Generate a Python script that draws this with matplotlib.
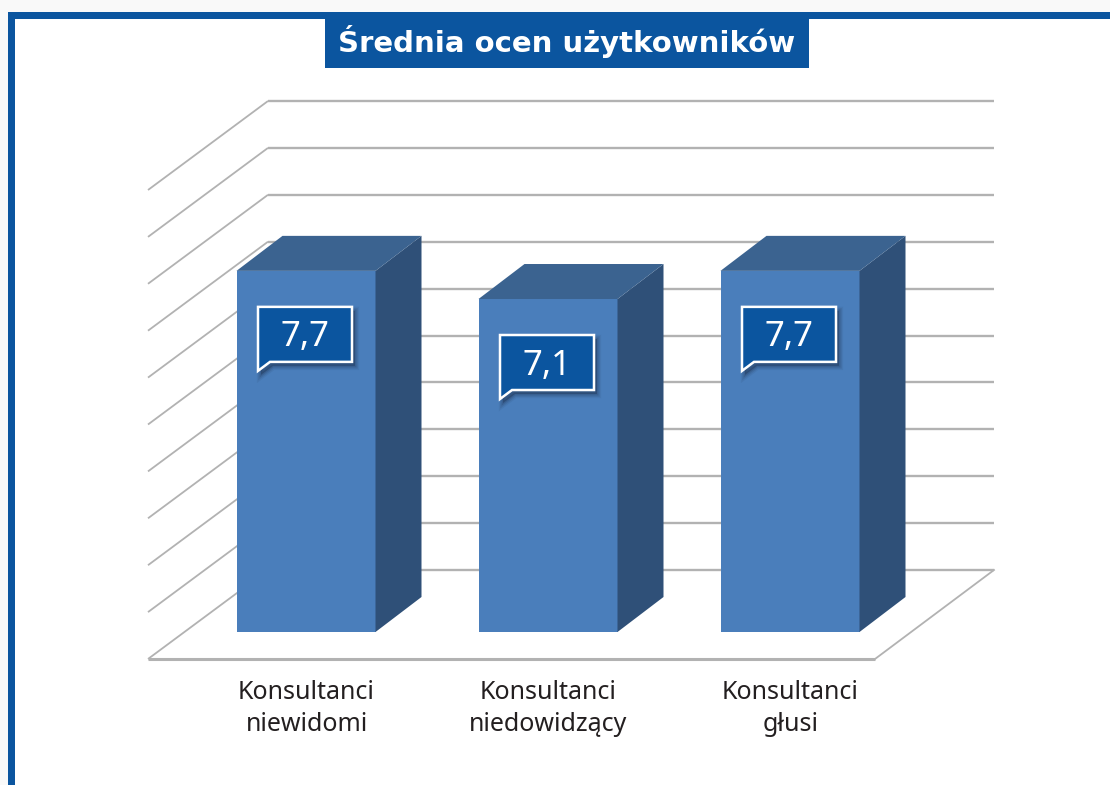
import matplotlib
matplotlib.use("Agg")
import matplotlib.pyplot as plt
from matplotlib.patches import Polygon, Rectangle

# Data

categories = ["Konsultanci\nniewidomi", "Konsultanci\nniedowidzący", "Konsultanci\ngłusi"]
values = [7.7, 7.1, 7.7]
value_labels = ["7,7", "7,1", "7,7"]
grid_values = [0, 1, 2, 3, 4, 5, 6, 7, 8, 9, 10]
title = "Średnia ocen użytkowników"

# Scale of the picture, in pixels

W, H = 1110, 785
X0, Y0 = 306, 632      # centre and base of the first bar
PX_X, PX_Y = 242, 46.9  # pixels per category, per value unit

BLUE = "#0b559f"
GRID = "#b2b2b2"

fig = plt.figure(figsize=(W / 100, H / 100), dpi=100, facecolor="#f9f9f9")
ax = fig.add_axes([0, 0, 1, 1])
ax.set_xlim(-X0 / PX_X, (W - X0) / PX_X)
ax.set_ylim((Y0 - H) / PX_Y, Y0 / PX_Y)
ax.axis("off")


def dx(px):
    return px / PX_X


def dy(px):
    return px / PX_Y


def box(x0, y0, x1, y1, color, z):
    # rectangle given in picture pixels (y down)
    ax.add_patch(Rectangle(((x0 - X0) / PX_X, (Y0 - y1) / PX_Y), (x1 - x0) / PX_X, (y1 - y0) / PX_Y,
                           facecolor=color, edgecolor="none", zorder=z))


# Frame

box(7.5, 11.5, W + 5, H + 5, BLUE, 0)
box(15, 19, W + 5, H + 5, "white", 0.5)
box(325, 19, 809, 68, BLUE, 1)
ax.text((567 - X0) / PX_X, (Y0 - 42) / PX_Y, title, color="white", fontsize=21, family="DejaVu Sans",
        fontweight="bold", ha="center", va="center", zorder=2)

# Walls and floor

wall_x0 = (268 - X0) / PX_X
wall_x1 = (994 - X0) / PX_X
side_x = (148 - X0) / PX_X
front_x = (875 - X0) / PX_X
wall_base = dy(62)
side_drop = dy(89)

for g in grid_values:
    y = wall_base + g
    ax.plot([side_x, wall_x0], [y - side_drop, y], color=GRID, lw=1.3, zorder=1, solid_capstyle="butt")
    ax.plot([wall_x0, wall_x1], [y, y], color=GRID, lw=1.7, zorder=1, solid_capstyle="butt")

ax.plot([side_x, front_x], [wall_base - side_drop] * 2, color=GRID, lw=2.2, zorder=1, solid_capstyle="butt")
ax.plot([front_x, wall_x1], [wall_base - side_drop, wall_base], color=GRID, lw=1.3, zorder=1)

# Bars

positions = list(range(len(values)))
width = dx(139)
depth_x = dx(46)
depth_y = dy(35)

ax.bar(positions, values, width=width, color="#4a7ebb", zorder=3)

for p, v in zip(positions, values):
    left = p - width / 2
    right = p + width / 2
    ax.add_patch(Polygon([(right, 0), (right + depth_x, depth_y), (right + depth_x, v + depth_y), (right, v)],
                         facecolor="#2f5078", edgecolor="none", zorder=3))
    ax.add_patch(Polygon([(left, v), (left + depth_x, v + depth_y), (right + depth_x, v + depth_y), (right, v)],
                         facecolor="#3b6390", edgecolor="none", zorder=3))

# Value callouts

for p, v, label in zip(positions, values, value_labels):
    bx0 = p - dx(48)
    bx1 = p + dx(46)
    by1 = v - dy(36)
    by0 = by1 - dy(55)
    shape = [(bx0, by1), (bx1, by1), (bx1, by0), (bx0 + dx(12), by0), (bx0, by0 - dy(9))]
    # soft shadow, a few widening layers
    for lw, alpha in [(6, 0.08), (4, 0.12), (2, 0.18)]:
        shadow = [(x + dx(3), y - dy(4)) for x, y in shape]
        ax.add_patch(Polygon(shadow, facecolor="#1a2a45", edgecolor="#1a2a45", lw=lw, alpha=alpha, zorder=4))
    ax.add_patch(Polygon(shape, facecolor=BLUE, edgecolor="white", lw=1.8, joinstyle="miter", zorder=5))
    ax.text((bx0 + bx1) / 2, (by0 + by1) / 2 - dy(3), label, color="white", fontsize=25,
            family="Noto Sans", ha="center", va="center", zorder=6)

# Category labels

for p, c in zip(positions, categories):
    ax.text(p + dx(0.5), -dy(48), c, color="#231f20", fontsize=18, family="Noto Sans", ha="center", va="top",
            linespacing=1.36, zorder=2)

plt.savefig("out.png", dpi=100, facecolor=fig.get_facecolor())
